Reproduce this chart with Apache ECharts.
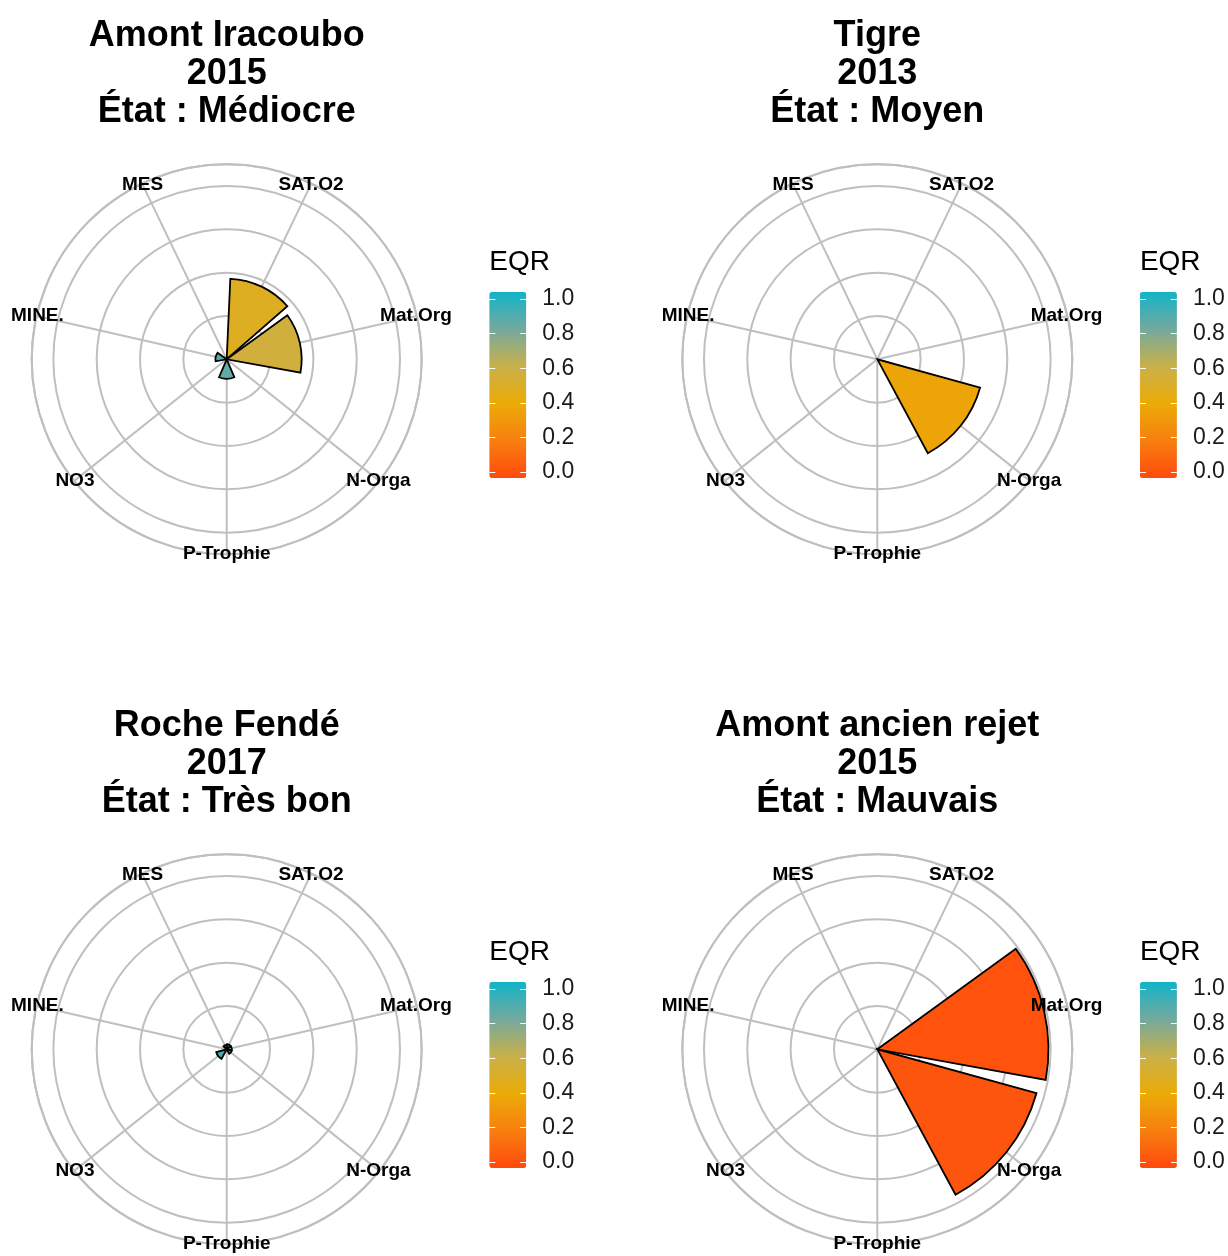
<!DOCTYPE html>
<html>
<head>
<meta charset="utf-8">
<title>EQR</title>
<script src="https://cdn.jsdelivr.net/npm/echarts@6/dist/echarts.min.js"></script>
<style>
  html, body { margin: 0; padding: 0; background: #fff; }
  #main { width: 1228px; height: 1256px; }
</style>
</head>
<body>
<div id="main"></div>
<script>
// categories, clockwise from the first spoke right of the top
var categories = ['SAT.O2', 'Mat.Org', 'N-Orga', 'P-Trophie', 'NO3', 'MINE.', 'MES'];

var titles = [
    'Amont Iracoubo\n2015\nÉtat : Médiocre',
    'Tigre\n2013\nÉtat : Moyen',
    'Roche Fendé\n2017\nÉtat : Très bon',
    'Amont ancien rejet\n2015\nÉtat : Mauvais'
];

// bar length (radial units) and EQR fill, same order as categories
var iracouboLength = [1.86, 1.73, 0, 0.45, 0, 0.26, 0];
var iracouboEqr    = [0.48, 0.56, 1, 0.84, 1, 0.86, 1];
var tigreLength    = [0, 0, 2.46, 0, 0, 0, 0];
var tigreEqr       = [1, 1, 0.37, 1, 1, 1, 1];
var rocheLength    = [0.12, 0.12, 0.12, 0, 0.25, 0, 0.1];
var rocheEqr       = [0.93, 0.93, 0.92, 1, 0.9, 1, 0.94];
var rejetLength    = [0, 3.95, 3.81, 0, 0, 0, 0];
var rejetEqr       = [1, 0.03, 0.04, 1, 1, 1, 1];

var eqrTicks  = [0, 0.2, 0.4, 0.6, 0.8, 1.0];
var eqrColors = ['#ff4a0c', '#f77f10', '#ebab07', '#c9b04a', '#74a99e', '#12b4c8'];

var lengths = [iracouboLength, tigreLength, rocheLength, rejetLength];
var eqrs = [iracouboEqr, tigreEqr, rocheEqr, rejetEqr];

var font = '"Liberation Sans", Arial, Helvetica, sans-serif';
var gridColor = '#bfbfbf';

// panel placement
var panels = [
    {cx: 226.7, cy: 359.3, top: 17},
    {cx: 877.3, cy: 359.3, top: 17},
    {cx: 226.7, cy: 1049.3, top: 707},
    {cx: 877.3, cy: 1049.3, top: 707}
];

var myChart = echarts.init(document.getElementById('main'));

var option = {
    backgroundColor: '#fff',
    animation: false,
    title: [],
    polar: [],
    angleAxis: [],
    radiusAxis: [],
    grid: [],
    xAxis: [],
    yAxis: [],
    visualMap: [],
    series: []
};

panels.forEach(function (p, i) {
    option.title.push({
        text: titles[i],
        left: p.cx,
        top: p.top,
        textAlign: 'center',
        padding: 0,
        textStyle: {fontFamily: font, fontSize: 36, fontWeight: 'bold', lineHeight: 38, color: '#000'}
    });

    option.polar.push({center: [p.cx, p.cy], radius: [0, 195]});

    option.angleAxis.push({
        polarIndex: i,
        type: 'category',
        data: categories,
        boundaryGap: true,
        startAngle: 90,
        clockwise: true,
        axisLine: {show: true, lineStyle: {color: gridColor, width: 2}},
        axisTick: {show: false, alignWithLabel: true},
        axisLabel: {show: false},
        splitLine: {show: true, lineStyle: {color: gridColor, width: 2}}
    });

    option.radiusAxis.push({
        polarIndex: i,
        type: 'value',
        min: 0,
        max: 4.5,
        interval: 1,
        axisLine: {show: false},
        axisTick: {show: false},
        axisLabel: {show: false},
        splitLine: {show: true, lineStyle: {color: gridColor, width: 2}}
    });

    var barData = [];
    categories.forEach(function (c, k) {
        if (lengths[i][k] > 0) {
            barData.push([lengths[i][k], c, eqrs[i][k]]);
        }
    });

    var barIndex = option.series.length;
    option.series.push({
        type: 'bar',
        coordinateSystem: 'polar',
        polarIndex: i,
        barWidth: '90%',
        encode: {radius: 0, angle: 1},
        data: barData,
        itemStyle: {borderColor: '#000', borderWidth: 1.8},
        z: 3
    });

    // axis category names sit on the outer ring
    option.series.push({
        type: 'scatter',
        coordinateSystem: 'polar',
        polarIndex: i,
        symbolSize: 0,
        silent: true,
        itemStyle: {opacity: 1},
        data: categories.map(function (c) { return {name: c, value: [4.48, c]}; }),
        label: {
            show: true,
            position: 'inside',
            formatter: '{b}',
            fontFamily: font,
            fontSize: 19,
            fontWeight: 'bold',
            color: '#000',
            opacity: 1,
            textBorderWidth: 0
        },
        z: 6
    });

    // colour bar legend
    var lx = p.cx + 262.6;
    var ly = p.cy - 60.3;
    option.visualMap.push({
        type: 'continuous',
        seriesIndex: barIndex,
        dimension: 2,
        min: 0,
        max: 1,
        calculable: false,
        hoverLink: false,
        orient: 'vertical',
        left: lx,
        top: ly - 7,
        padding: 0,
        itemWidth: 37,
        itemHeight: 186,
        inRange: {color: eqrColors}
    });

    option.grid.push({left: lx, top: ly, width: 37, height: 173});
    option.xAxis.push({gridIndex: i, type: 'value', show: false});
    option.yAxis.push({
        gridIndex: i,
        type: 'value',
        position: 'left',
        min: 0,
        max: 1,
        interval: 0.2,
        name: 'EQR',
        nameLocation: 'end',
        nameGap: 37,
        nameTextStyle: {fontFamily: font, fontSize: 28, color: '#000', align: 'left', verticalAlign: 'middle'},
        axisLine: {show: false},
        axisTick: {show: true, inside: true, length: 6, lineStyle: {color: '#fff', width: 1}},
        axisLabel: {show: false},
        splitLine: {show: false},
        z: 10
    });
    option.yAxis.push({
        gridIndex: i,
        type: 'value',
        position: 'right',
        min: 0,
        max: 1,
        interval: 0.2,
        axisLine: {show: false},
        axisTick: {show: true, inside: true, length: 6, lineStyle: {color: '#fff', width: 1}},
        axisLabel: {
            show: true,
            margin: 16,
            fontFamily: font,
            fontSize: 23,
            color: '#1a1a1a',
            formatter: function (v) {
                var t = eqrTicks.filter(function (e) { return Math.abs(e - v) < 1e-9; });
                return t.length ? t[0].toFixed(1) : '';
            }
        },
        splitLine: {show: false},
        z: 10
    });
});

myChart.setOption(option);
window.onresize = myChart.resize;
</script>
</body>
</html>
